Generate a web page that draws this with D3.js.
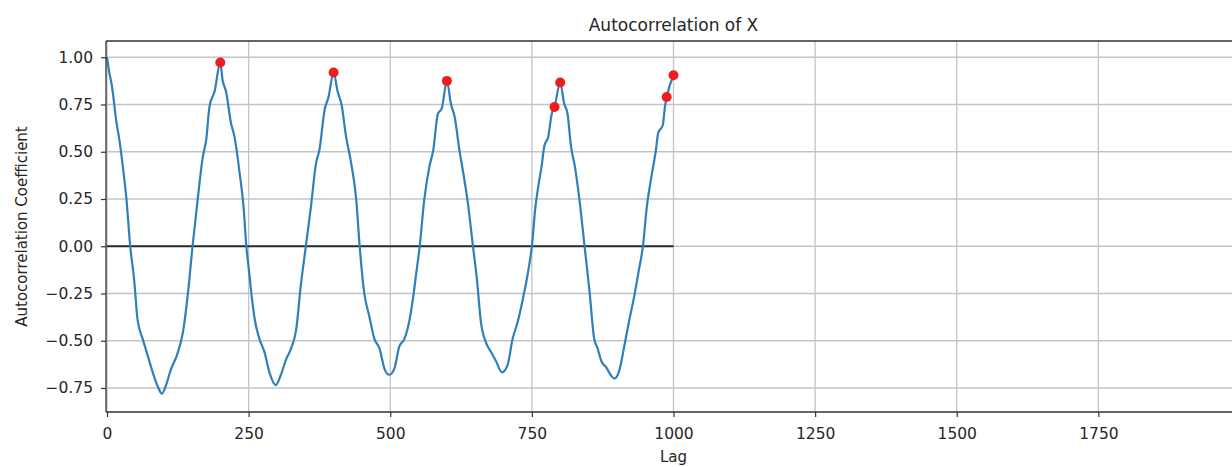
<!DOCTYPE html>
<html>
<head>
<meta charset="utf-8">
<script src="https://cdn.jsdelivr.net/npm/d3@7"></script>
<style>
  body { margin: 0; background: #fff; }
  text { font-family: "DejaVu Sans", sans-serif; fill: #262626; }
</style>
</head>
<body>
<div id="chart"></div>
<script>
// lag values
const lags = [0, 4, 8, 10, 16, 22, 28, 34, 41, 48, 54, 63, 72, 81, 90, 97, 104, 113, 123, 134, 143, 151, 160, 169, 175, 181, 190, 200, 204, 210, 219, 225, 234, 241, 246, 251, 256, 261, 269, 278, 287, 298, 307, 316, 325, 334, 342, 351, 360, 369, 375, 384, 391, 400, 407, 414, 422, 431, 440, 446, 454, 463, 472, 481, 490, 498, 507, 516, 525, 534, 540, 546, 552, 560, 569, 576, 584, 591, 600, 607, 614, 622, 629, 637, 646, 653, 660, 669, 678, 687, 697, 707, 716, 725, 734, 743, 750, 756, 762, 767, 772, 779, 785, 790, 800, 807, 813, 819, 826, 834, 843, 852, 860, 866, 873, 881, 890, 896, 905, 913, 922, 931, 938, 946, 953, 960, 969, 973, 981, 985, 988, 1000];
const acf = [1.00, 0.92, 0.86, 0.82, 0.67, 0.56, 0.42, 0.26, 0.00, -0.18, -0.39, -0.49, -0.58, -0.67, -0.745, -0.78, -0.737, -0.65, -0.58, -0.456, -0.245, 0.00, 0.245, 0.47, 0.56, 0.74, 0.82, 0.972, 0.88, 0.82, 0.65, 0.58, 0.39, 0.21, 0.00, -0.14, -0.28, -0.39, -0.49, -0.56, -0.67, -0.735, -0.68, -0.60, -0.54, -0.44, -0.21, 0.00, 0.21, 0.44, 0.51, 0.72, 0.79, 0.919, 0.82, 0.75, 0.58, 0.44, 0.245, 0.00, -0.245, -0.37, -0.49, -0.54, -0.65, -0.68, -0.65, -0.53, -0.49, -0.39, -0.28, -0.14, 0.00, 0.245, 0.42, 0.51, 0.70, 0.73, 0.875, 0.755, 0.68, 0.51, 0.386, 0.23, 0.00, -0.175, -0.40, -0.51, -0.56, -0.61, -0.667, -0.63, -0.49, -0.40, -0.28, -0.14, 0.00, 0.20, 0.33, 0.42, 0.53, 0.58, 0.70, 0.737, 0.866, 0.755, 0.70, 0.53, 0.42, 0.245, 0.00, -0.245, -0.49, -0.54, -0.61, -0.64, -0.685, -0.70, -0.65, -0.53, -0.39, -0.26, -0.14, 0.00, 0.21, 0.35, 0.51, 0.60, 0.64, 0.74, 0.79, 0.905];

// red markers
const peakLags = [200, 400, 600, 790, 800, 988, 1000];
const peakVals = [0.972, 0.919, 0.875, 0.737, 0.866, 0.79, 0.905];

const xTicks = [0, 250, 500, 750, 1000, 1250, 1500, 1750];
const yTicks = [-0.75, -0.5, -0.25, 0, 0.25, 0.5, 0.75, 1.0];

const width = 1232, height = 467;
const margin = ({ top: 41, left: 106, bottom: 412 });

const x = d3.scaleLinear().domain([0, 2000]).range([margin.left + 1, margin.left + 1134]);
const y = d3.scaleLinear().domain([-0.877, 1.086]).range([margin.bottom, margin.top]);

const svg = d3.select("#chart").append("svg")
    .attr("width", width)
    .attr("height", height)
    .style("background", "#fff");

svg.append("clipPath").attr("id", "clip")
  .append("rect")
    .attr("x", margin.left).attr("y", margin.top)
    .attr("width", x(2000) - margin.left).attr("height", margin.bottom - margin.top);

// grid
const grid = svg.append("g").attr("clip-path", "url(#clip)");
grid.selectAll(".gx").data(xTicks).join("line")
    .attr("x1", d => x(d)).attr("x2", d => x(d))
    .attr("y1", margin.top).attr("y2", margin.bottom)
    .attr("stroke", "#c4c4c4").attr("stroke-width", 1.3);
grid.selectAll(".gy").data(yTicks).join("line")
    .attr("x1", margin.left).attr("x2", x(2000))
    .attr("y1", d => y(d)).attr("y2", d => y(d))
    .attr("stroke", "#c4c4c4").attr("stroke-width", 1.3);

const plot = svg.append("g").attr("clip-path", "url(#clip)");

// zero line
plot.append("line")
    .attr("x1", x(0)).attr("x2", x(1000))
    .attr("y1", y(0)).attr("y2", y(0))
    .attr("stroke", "#2a2a2a").attr("stroke-width", 2);

const line = d3.line()
    .x((d, i) => x(lags[i]))
    .y(d => y(d))
    .curve(d3.curveMonotoneX);

plot.append("path")
    .datum(acf)
    .attr("d", line)
    .attr("fill", "none")
    .attr("stroke", "#2f7fb8")
    .attr("stroke-width", 2.2)
    .attr("stroke-linejoin", "round");

plot.selectAll(".peak").data(peakLags).join("circle")
    .attr("cx", d => x(d))
    .attr("cy", (d, i) => y(peakVals[i]))
    .attr("r", 5)
    .attr("fill", "#ee1c1c");

// axes
const xAxis = d3.axisBottom(x).tickValues(xTicks).tickSize(5).tickPadding(11).tickFormat(d3.format("d"));
const yAxis = d3.axisLeft(y).tickValues(yTicks).tickSize(5).tickPadding(8).tickFormat(d3.format(".2f"));

const gx = svg.append("g")
    .attr("transform", `translate(0,${margin.bottom})`)
    .call(xAxis);
const gy = svg.append("g")
    .attr("transform", `translate(${margin.left},0)`)
    .call(yAxis);

[gx, gy].forEach(g => {
    g.select(".domain").remove();
    g.selectAll(".tick line").attr("stroke", "#333").attr("stroke-width", 1.2);
    g.selectAll("text").style("font-size", "15.5px").attr("fill", "#262626");
});
gy.selectAll("text").text(d => d < 0 ? "\u2212" + d3.format(".2f")(-d) : d3.format(".2f")(d));

// spines
svg.append("line")
    .attr("x1", margin.left).attr("x2", margin.left)
    .attr("y1", margin.top).attr("y2", margin.bottom)
    .attr("stroke", "#333").attr("stroke-width", 1.3);
svg.append("line")
    .attr("x1", margin.left).attr("x2", width)
    .attr("y1", margin.bottom).attr("y2", margin.bottom)
    .attr("stroke", "#333").attr("stroke-width", 1.3);
svg.append("line")
    .attr("x1", margin.left).attr("x2", width)
    .attr("y1", margin.top).attr("y2", margin.top)
    .attr("stroke", "#333").attr("stroke-width", 1.3);

// labels
svg.append("text")
    .attr("x", (x(0) + x(2000)) / 2)
    .attr("y", 31)
    .attr("text-anchor", "middle")
    .style("font-size", "17px")
    .text("Autocorrelation of X");

svg.append("text")
    .attr("x", (x(0) + x(2000)) / 2)
    .attr("y", 462)
    .attr("text-anchor", "middle")
    .style("font-size", "15px")
    .text("Lag");

svg.append("text")
    .attr("transform", `translate(27,${(margin.top + margin.bottom) / 2}) rotate(-90)`)
    .attr("text-anchor", "middle")
    .style("font-size", "15px")
    .text("Autocorrelation Coefficient");
</script>
</body>
</html>
